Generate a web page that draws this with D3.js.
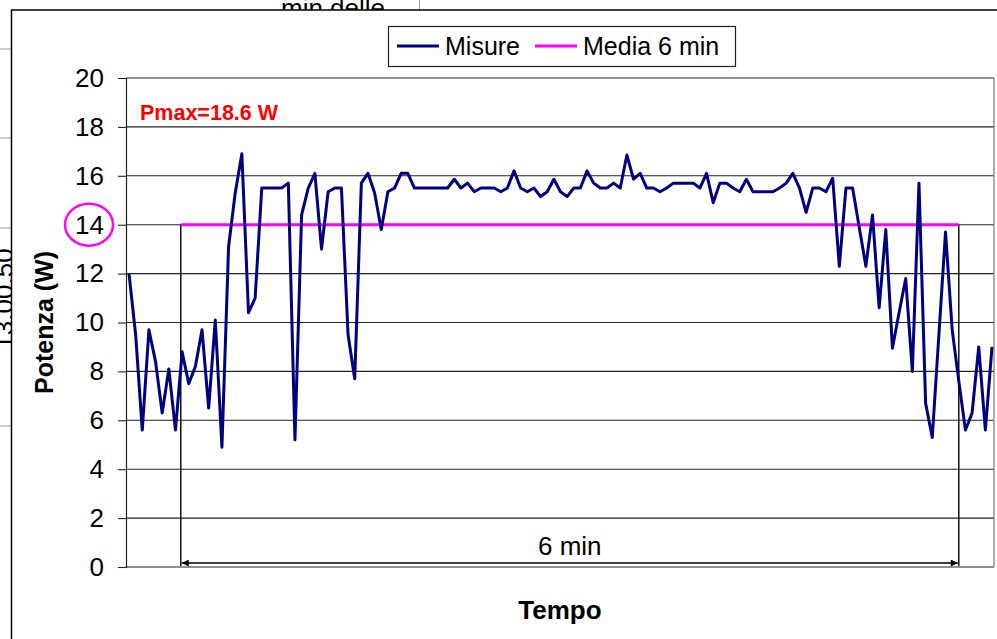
<!DOCTYPE html>
<html><head><meta charset="utf-8">
<script src="https://cdn.jsdelivr.net/npm/d3@7"></script>
<style>
html,body{margin:0;padding:0;background:#fff;overflow:hidden}
svg{display:block;font-family:"Liberation Sans",Arial,sans-serif}
</style></head><body>
<svg id="chart" width="997" height="639"></svg>
<script>
// ---- data ----
const misure = [
 12.0, 9.5, 5.6, 9.7, 8.4, 6.3, 8.1, 5.6, 8.8, 7.5,
 8.2, 9.7, 6.5, 10.1, 4.9, 13.1, 15.3, 16.9, 10.4, 11.0,
 15.5, 15.5, 15.5, 15.5, 15.7, 5.2, 14.4, 15.5, 16.1, 13.0,
 15.35, 15.5, 15.5, 9.5, 7.7, 15.7, 16.1, 15.3, 13.8, 15.35,
 15.5, 16.1, 16.1, 15.5, 15.5, 15.5, 15.5, 15.5, 15.5, 15.86,
 15.5, 15.7, 15.35, 15.5, 15.5, 15.5, 15.35, 15.5, 16.2, 15.5,
 15.35, 15.5, 15.15, 15.35, 15.86, 15.35, 15.15, 15.5, 15.5, 16.2,
 15.7, 15.5, 15.5, 15.7, 15.5, 16.85, 15.86, 16.1, 15.5, 15.5,
 15.35, 15.5, 15.7, 15.7, 15.7, 15.7, 15.5, 16.1, 14.9, 15.7,
 15.7, 15.5, 15.35, 15.86, 15.35, 15.35, 15.35, 15.35, 15.5, 15.7,
 16.1, 15.5, 14.5, 15.5, 15.5, 15.35, 15.9, 12.3, 15.5, 15.5,
 13.9, 12.3, 14.4, 10.6, 13.8, 8.95, 10.4, 11.8, 8.0, 15.7,
 6.7, 5.3, 9.5, 13.7, 9.7, 7.6, 5.6, 6.3, 9.0, 5.6,
 9.0
];
const media = [{i: 7.8, v: 14}, {i: 125, v: 14}];   // 6-minute mean window
const yTicks = [0, 2, 4, 6, 8, 10, 12, 14, 16, 18, 20];
const legendLabels = ["Misure", "Media 6 min"];
const pmaxLabel = "Pmax=18.6 W";
const spanLabel = "6 min";
const yTitle = "Potenza (W)";
const xTitle = "Tempo";

// ---- drawing ----
const svg = d3.select("#chart");
const FONT = '"Liberation Sans",Arial,sans-serif';

// background fragments behind the chart
const bg = svg.append("g");
[49, 138, 228, 426].forEach(y => bg.append("line").attr("x1", 0).attr("x2", 12)
  .attr("y1", y).attr("y2", y).attr("stroke", "#999").attr("stroke-width", 1));
bg.append("text").attr("x", 281).attr("y", 17).attr("font-size", 26)
  .attr("fill", "#000").text("min delle");
bg.append("line").attr("x1", 419.5).attr("x2", 419.5).attr("y1", 0).attr("y2", 10)
  .attr("stroke", "#999");
bg.append("text").attr("transform", "translate(13,299) rotate(-90)")
  .attr("text-anchor", "middle").attr("font-size", 26).attr("fill", "#000")
  .text("13.00.50");

// chart frame
svg.append("rect").attr("x", 11.5).attr("y", 10).attr("width", 1000).attr("height", 660)
  .attr("fill", "#fff").attr("stroke", "#000").attr("stroke-width", 1.5);

const x = d3.scaleLinear().domain([0, misure.length - 1]).range([129, 992]);
const y = d3.scaleLinear().domain([0, 20]).range([567, 78]);
const plotL = 126, plotR = 994;

// gridlines
svg.append("g").selectAll("line").data(yTicks).join("line")
  .attr("x1", plotL).attr("x2", plotR)
  .attr("y1", d => y(d)).attr("y2", d => y(d))
  .attr("stroke", "#222").attr("stroke-width", 1.1);
// right plot border
svg.append("line").attr("x1", plotR).attr("x2", plotR).attr("y1", y(20)).attr("y2", y(0))
  .attr("stroke", "#777").attr("stroke-width", 1.2);

// y axis
const yAxis = d3.axisLeft(y).tickValues(yTicks).tickSize(8).tickPadding(14).tickFormat(d3.format("d"));
const gy = svg.append("g").attr("transform", `translate(${plotL},0)`).call(yAxis);
gy.select(".domain").attr("stroke", "#222").attr("stroke-width", 1.2);
gy.selectAll(".tick line").attr("stroke", "#222").attr("stroke-width", 1.1);
gy.selectAll(".tick text").attr("font-size", 26).attr("font-family", FONT).attr("fill", "#000");

// vertical guides & span arrow
svg.append("defs").html(`
 <marker id="ah" viewBox="0 0 10 10" refX="10" refY="5" markerWidth="9" markerHeight="7" orient="auto-start-reverse" markerUnits="userSpaceOnUse">
  <path d="M0,0 L10,5 L0,10 z" fill="#000"/></marker>`);
media.forEach(m => svg.append("line")
  .attr("x1", x(m.i)).attr("x2", x(m.i)).attr("y1", y(m.v)).attr("y2", y(0) - 1)
  .attr("stroke", "#000").attr("stroke-width", 1.4));
svg.append("line").attr("x1", x(media[0].i) + 1).attr("x2", x(media[1].i) - 1)
  .attr("y1", 563).attr("y2", 563).attr("stroke", "#000").attr("stroke-width", 1.6)
  .attr("marker-start", "url(#ah)").attr("marker-end", "url(#ah)");
svg.append("text").attr("x", (x(media[0].i) + x(media[1].i)) / 2).attr("y", 555)
  .attr("text-anchor", "middle").attr("font-size", 26).text(spanLabel);

// mean line
svg.append("path").datum(media)
  .attr("d", d3.line().x(d => x(d.i)).y(d => y(d.v)))
  .attr("fill", "none").attr("stroke", "#FF00FF").attr("stroke-width", 3);

// measurements
svg.append("path").datum(misure)
  .attr("d", d3.line().x((d, i) => x(i)).y(d => y(d)))
  .attr("fill", "none").attr("stroke", "#000080").attr("stroke-width", 3)
  .attr("stroke-linejoin", "round");

// Pmax label
svg.append("text").attr("x", 140).attr("y", 120).attr("font-size", 21.5)
  .attr("font-weight", "bold").attr("fill", "#FF0000").text(pmaxLabel);

// circle around 14
svg.append("ellipse").attr("cx", 89).attr("cy", y(14)).attr("rx", 24).attr("ry", 21)
  .attr("fill", "none").attr("stroke", "#FF00FF").attr("stroke-width", 2.5);

// axis titles
svg.append("text").attr("transform", `translate(53,${(y(0) + y(20)) / 2}) rotate(-90)`)
  .attr("text-anchor", "middle").attr("font-size", 25).attr("font-weight", "bold").text(yTitle);
svg.append("text").attr("x", (plotL + plotR) / 2).attr("y", 619)
  .attr("text-anchor", "middle").attr("font-size", 26).attr("font-weight", "bold").text(xTitle);

// legend
const lg = svg.append("g");
lg.append("rect").attr("x", 388.5).attr("y", 26.5).attr("width", 347).attr("height", 40)
  .attr("fill", "#fff").attr("stroke", "#222").attr("stroke-width", 1.2);
const items = [
  {label: legendLabels[0], color: "#000080", x0: 397},
  {label: legendLabels[1], color: "#FF00FF", x0: 535}
];
items.forEach(it => {
  lg.append("line").attr("x1", it.x0).attr("x2", it.x0 + 42).attr("y1", 46).attr("y2", 46)
    .attr("stroke", it.color).attr("stroke-width", 3);
  lg.append("text").attr("x", it.x0 + 48).attr("y", 55).attr("font-size", 25).text(it.label);
});
</script>
</body></html>
